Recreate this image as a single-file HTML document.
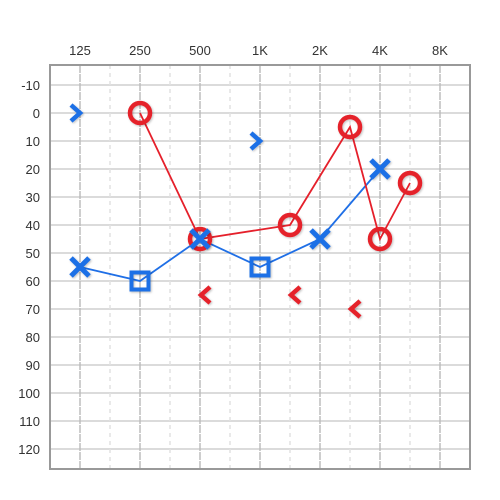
<!DOCTYPE html>
<html><head><meta charset="utf-8"><style>
html,body{margin:0;padding:0;background:#fff;}
svg{display:block;font-family:"Liberation Sans",sans-serif;}
</style></head><body>
<svg id="chart" width="500" height="500" viewBox="0 0 500 500">
<defs><filter id="sh" x="-50%" y="-50%" width="200%" height="200%"><feDropShadow dx="1" dy="1" stdDeviation="1" flood-color="#000" flood-opacity="0.25"/></filter></defs>
<g id="grid"></g>
<g id="marks"></g>
</svg>
<script>
const freqLabels = ["125","250","500","1K","2K","4K","8K"];
const dbTicks = [-10,0,10,20,30,40,50,60,70,80,90,100,110,120];
// frequencies expressed in octaves above 125 Hz
const rightAirFreq = [1,2,3.5,4.5,5,5.5];
const rightAirDb = [0,45,40,5,45,25];
const leftAirFreq = [0,2,4,5];
const leftAirDb = [55,45,45,20];
const leftMaskedFreq = [1,3];
const leftMaskedDb = [60,55];
const leftLineFreq = [0,1,2,3,4,5];
const leftLineDb = [55,60,45,55,45,20];
const leftBoneFreq = [0,3];
const leftBoneDb = [0,10];
const rightBoneFreq = [2,3.5,4.5];
const rightBoneDb = [65,65,70];

const X = o => 80 + o*60;
const Y = d => 113 + d*2.8;
const NS = "http://www.w3.org/2000/svg";
function mk(parent, tag, attrs){const e=document.createElementNS(NS,tag);for(const k in attrs)e.setAttribute(k,attrs[k]);parent.appendChild(e);return e;}
const grid=document.getElementById('grid'), marks=document.getElementById('marks');
const L=50,R=470,T=65,B=469;
dbTicks.forEach(d=>{
  const l=mk(grid,'line',{x1:L,x2:R,y1:Y(d),y2:Y(d),stroke:'#cfcfcf','stroke-width':1.5});
  
  
  const t=mk(grid,'text',{x:40,y:Y(d)+5,'text-anchor':'end','font-size':13,fill:'#333'});
  t.textContent=d;
  
  
});
for(let i=0;i<6;i++){
  const h=mk(grid,'line',{x1:X(i+0.5),x2:X(i+0.5),y1:T,y2:B,stroke:'#e2e2e2','stroke-width':1.5,'stroke-dasharray':'4,4'});
  
  
}
freqLabels.forEach((f,i)=>{
  const l=mk(grid,'line',{x1:X(i),x2:X(i),y1:T,y2:B,stroke:'#bdbdbd','stroke-width':1.5,'stroke-dasharray':'8,1'});
  
  
  const t=mk(grid,'text',{x:X(i),y:55,'text-anchor':'middle','font-size':13,fill:'#333'});
  t.textContent=f;
  
  
});
const fr=mk(grid,'path',{d:`M${L},${B} V${T} H${R} V${B} Z`,fill:'none',stroke:'#999','stroke-width':2});



const RED='#e5202b', BLUE='#1f6fe6';
function poly(fs,ds,c,name){
  const p=mk(marks,'polyline',{points:fs.map((f,i)=>X(f)+','+Y(ds[i])).join(' '),fill:'none',stroke:c,'stroke-width':1.8});
  
  
}
poly(leftLineFreq,leftLineDb,BLUE,'left-air-line');
poly(rightAirFreq,rightAirDb,RED,'right-air-line');
rightAirFreq.forEach((f,i)=>{
  const c=mk(marks,'circle',{cx:X(f),cy:Y(rightAirDb[i]),r:10,fill:'none',stroke:RED,'stroke-width':4.5,filter:'url(#sh)'});
  
  
});
leftMaskedFreq.forEach((f,i)=>{
  const x=X(f),y=Y(leftMaskedDb[i]);
  const r=mk(marks,'rect',{x:x-8.5,y:y-8.5,width:17,height:17,fill:'none',stroke:BLUE,'stroke-width':4,filter:'url(#sh)'});
  
  
});
leftAirFreq.forEach((f,i)=>{
  const x=X(f),y=Y(leftAirDb[i]);
  const p=mk(marks,'path',{d:`M${x-9},${y-9}L${x+9},${y+9}M${x+9},${y-9}L${x-9},${y+9}`,stroke:BLUE,'stroke-width':5,fill:'none',filter:'url(#sh)'});
  
  
});
leftBoneFreq.forEach((f,i)=>{
  const x=X(f)-4,y=Y(leftBoneDb[i]);
  const p=mk(marks,'path',{d:`M${x-5},${y-8}L${x+4},${y}L${x-5},${y+8}`,stroke:BLUE,'stroke-width':4.5,fill:'none',filter:'url(#sh)'});
  
  
});
rightBoneFreq.forEach((f,i)=>{
  const x=X(f)+5,y=Y(rightBoneDb[i]);
  const p=mk(marks,'path',{d:`M${x+5},${y-8}L${x-4},${y}L${x+5},${y+8}`,stroke:RED,'stroke-width':4.5,fill:'none',filter:'url(#sh)'});
  
  
});
</script>
</body></html>
